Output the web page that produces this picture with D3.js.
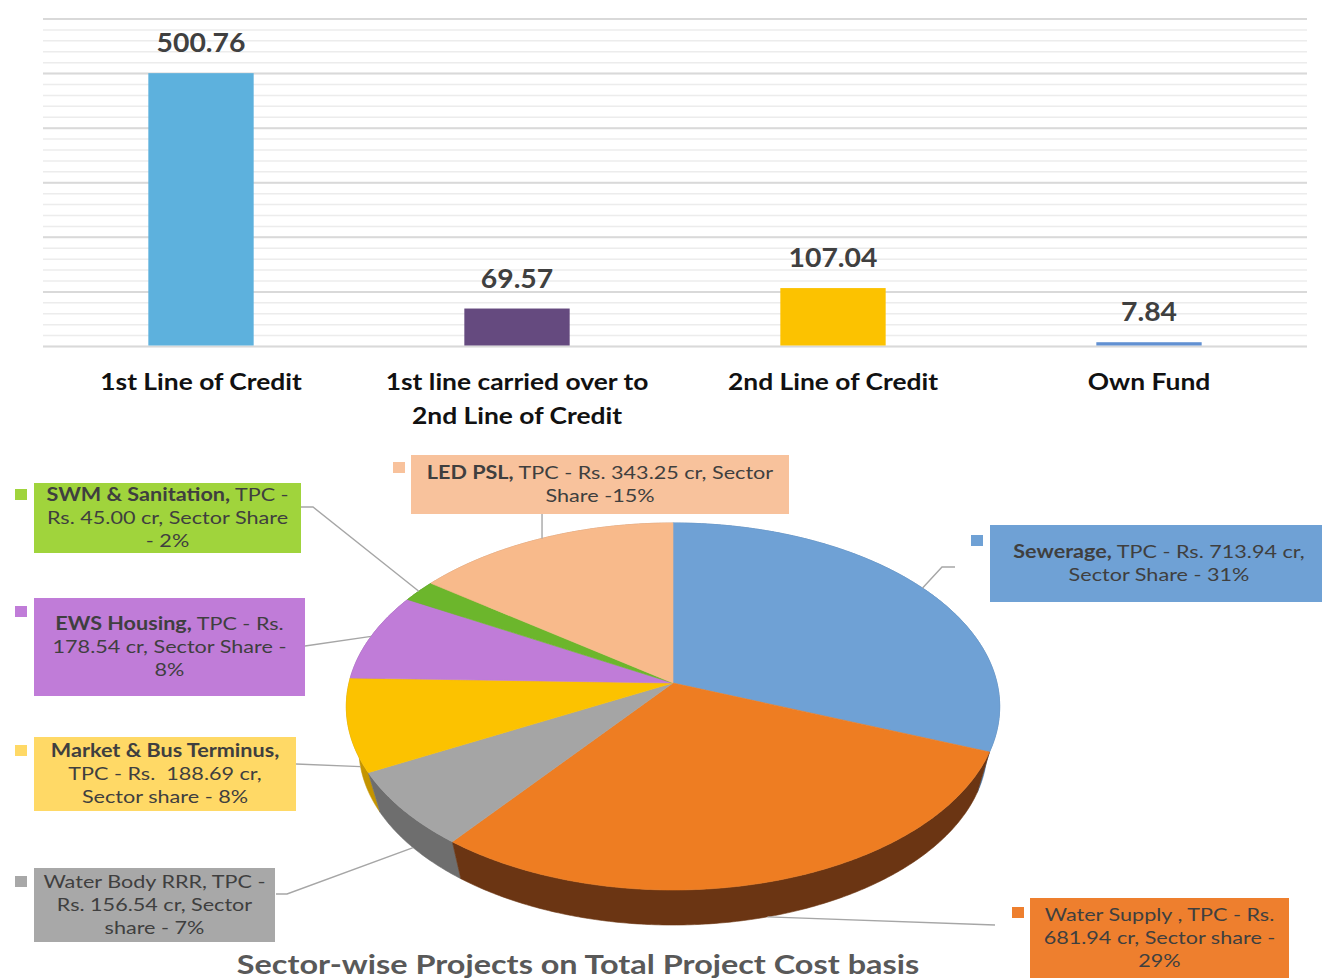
<!DOCTYPE html>
<html><head><meta charset="utf-8">
<script src="https://cdn.jsdelivr.net/npm/d3@7/dist/d3.min.js"></script>
<style>body{margin:0;background:#fff}svg{display:block}text{white-space:pre}</style>
</head><body>
<svg id="c" width="1322" height="978"></svg>
<script>
// ---------- DATA ----------
const barCategories = [["1st Line of Credit"], ["1st line carried over to", "2nd Line of Credit"], ["2nd Line of Credit"], ["Own Fund"]];
const barValues = [500.76, 69.57, 107.04, 7.84];
const barValueLabels = ["500.76", "69.57", "107.04", "7.84"];
const barColors = ["#5db1dd", "#654a7f", "#fcc200", "#6190d2"];
const yDomain = [0, 600];

const sectorNames = ["Sewerage", "Water Supply", "Water Body RRR", "Market & Bus Terminus", "EWS Housing", "SWM & Sanitation", "LED PSL"];
const sectorTPC = [713.94, 681.94, 156.54, 188.69, 178.54, 45.00, 343.25];
const sectorColors = ["#6fa1d5", "#ee7d22", "#a5a5a5", "#fcc200", "#c07cd8", "#6cb62c", "#f8ba8b"];
const sectorSideColors = ["#4a76a4", "#6b3513", "#6e6e6e", "#c49400", "#8c5aa0", "#4a8a1e", "#c08a66"];
const sectorBoxColors = ["#6fa1d5", "#ee7f2e", "#a8a8a8", "#ffd966", "#c07cd8", "#a0d43c", "#f8c29c"];
const sectorLabelLines = [
  [[["Sewerage,", 1], [" TPC - Rs. 713.94 cr,", 0]], [["Sector Share - 31%", 0]]],
  [[["Water Supply , TPC - Rs.", 0]], [["681.94 cr, Sector share -", 0]], [["29%", 0]]],
  [[["Water Body RRR, TPC -", 0]], [["Rs. 156.54 cr, Sector", 0]], [["share - 7%", 0]]],
  [[["Market & Bus Terminus,", 1]], [["TPC - Rs.  188.69 cr,", 0]], [["Sector share - 8%", 0]]],
  [[["EWS Housing,", 1], [" TPC - Rs.", 0]], [["178.54 cr, Sector Share -", 0]], [["8%", 0]]],
  [[["SWM & Sanitation,", 1], [" TPC -", 0]], [["Rs. 45.00 cr, Sector Share", 0]], [["- 2%", 0]]],
  [[["LED PSL,", 1], [" TPC - Rs. 343.25 cr, Sector", 0]], [["Share -15%", 0]]]
];
const pieTitle = "Sector-wise Projects on Total Project Cost basis";

// ---------- LAYOUT ----------
const svg = d3.select("#c");
const FONT = "Lato, 'Open Sans', sans-serif";
// text placed at (tx,ty) and stretched horizontally by sx about its anchor
function place(sel, tx, ty, sx) {
  return sel.attr("x", 0).attr("y", 0).attr("transform", `translate(${tx},${ty}) scale(${sx},1)`);
}

// Bar chart
const x = d3.scaleBand().domain(d3.range(barValues.length)).range([43, 1307]).paddingInner(2 / 3).paddingOuter(1 / 3);
const y = d3.scaleLinear().domain(yDomain).range([346.5, 19]);

const grid = svg.append("g");
grid.selectAll("line.minor").data(y.ticks(30)).join("line")
  .attr("x1", 43).attr("x2", 1307).attr("y1", d => y(d)).attr("y2", d => y(d))
  .attr("stroke", "#ececec").attr("stroke-width", 1.5);
grid.selectAll("line.major").data(y.ticks(6)).join("line")
  .attr("x1", 43).attr("x2", 1307).attr("y1", d => y(d)).attr("y2", d => y(d))
  .attr("stroke", "#d9d9d9").attr("stroke-width", 2);

svg.append("g").selectAll("rect").data(barValues).join("rect")
  .attr("x", (d, i) => x(i)).attr("width", x.bandwidth())
  .attr("y", d => y(d)).attr("height", d => y(0) - y(d) - 1)
  .attr("fill", (d, i) => barColors[i]);

const valG = svg.append("g");
barValues.forEach((v, i) => {
  place(valG.append("text"), x(i) + x.bandwidth() / 2, y(v) - 21, 1.09)
    .attr("text-anchor", "middle").attr("font-family", FONT).attr("font-weight", 700)
    .attr("font-size", 26).attr("fill", "#404040").text(barValueLabels[i]);
});

const catG = svg.append("g");
barCategories.forEach((lines, i) => {
  lines.forEach((ln, j) => {
    place(catG.append("text"), x(i) + x.bandwidth() / 2, 390 + j * 34, 1.2)
      .attr("text-anchor", "middle").attr("font-family", FONT).attr("font-weight", 700)
      .attr("font-size", 22).attr("fill", "#111").text(ln);
  });
});

// Pie chart (3D perspective)
const P = { cx: 673, cy: 683, A: 324, B: 180.5, c: 0.128 };
const VP = [673, 1800], T = 0.0385;
function proj(th) {
  const u = Math.sin(th), v = Math.cos(th), d = 1 + P.c * v;
  return [P.cx + P.A * u / d, P.cy - P.B * v / d];
}
function projB(th) {
  const [px, py] = proj(th);
  return [px + (VP[0] - px) * T, py + (VP[1] - py) * T];
}
function samples(a0, a1, f) {
  const n = Math.max(2, Math.ceil((a1 - a0) / 0.01));
  return d3.range(n + 1).map(i => f(a0 + (a1 - a0) * i / n));
}
const pie = d3.pie().sort(null).startAngle(0).endAngle(2 * Math.PI);
const arcs = pie(sectorTPC);
const line = d3.line();

const sideG = svg.append("g");
arcs.slice().sort((a, b) => Math.cos((b.startAngle + b.endAngle) / 2) - Math.cos((a.startAngle + a.endAngle) / 2))
  .forEach(a => {
    const top = samples(a.startAngle, a.endAngle, proj);
    const bot = samples(a.startAngle, a.endAngle, projB).reverse();
    sideG.append("path").attr("d", line(top.concat(bot)) + "Z")
      .attr("fill", sectorSideColors[a.index]).attr("stroke", sectorSideColors[a.index]).attr("stroke-width", 0.6);
  });

const topG = svg.append("g");
arcs.forEach(a => {
  const pts = [[P.cx, P.cy]].concat(samples(a.startAngle, a.endAngle, proj));
  topG.append("path").attr("d", line(pts) + "Z")
    .attr("fill", sectorColors[a.index]).attr("stroke", sectorColors[a.index]).attr("stroke-width", 0.6);
});

// Label boxes
const boxLayout = [
  { x: 990, y: 525, w: 340, h: 77, sq: [971, 535], lead: [[955, 567], [942, 567]] },
  { x: 1030, y: 898, w: 259, h: 80, sq: [1012, 907], lead: [[995, 925]] },
  { x: 34, y: 868, w: 241, h: 74, sq: [15, 876], lead: [[276, 894], [287, 894]] },
  { x: 34, y: 737, w: 262, h: 74, sq: [15, 745], lead: [[296, 764]] },
  { x: 34, y: 598, w: 271, h: 98, sq: [15, 606], lead: [[305, 646]] },
  { x: 34, y: 483, w: 267, h: 70, sq: [15, 489], lead: [[301, 507], [313, 507]] },
  { x: 411, y: 455, w: 378, h: 59, sq: [393, 462], lead: "v" }
];

const leadG = svg.append("g");
arcs.forEach(a => {
  const mid = (a.startAngle + a.endAngle) / 2;
  const end = Math.cos(mid) < 0 ? projB(mid) : proj(mid);
  const L = boxLayout[a.index];
  let pts;
  if (L.lead === "v") pts = [[end[0], L.y + L.h], end];
  else pts = L.lead.concat([end]);
  leadG.append("path").attr("d", line(pts)).attr("fill", "none")
    .attr("stroke", "#a6a6a6").attr("stroke-width", 1.4);
});

const boxG = svg.append("g");
sectorLabelLines.forEach((lines, i) => {
  const L = boxLayout[i];
  boxG.append("rect").attr("x", L.x).attr("y", L.y).attr("width", L.w).attr("height", L.h)
    .attr("fill", sectorBoxColors[i]);
  boxG.append("rect").attr("x", L.sq[0]).attr("y", L.sq[1]).attr("width", 12).attr("height", 11)
    .attr("fill", sectorBoxColors[i]);
  const fs = 18, lh = 23;
  const cxm = L.x + Math.min(L.w, 1322 - L.x) / 2 + (i === 0 ? 3 : 0);
  const cym = L.y + L.h / 2;
  lines.forEach((segs, j) => {
    const t = place(boxG.append("text"), cxm, cym + (j - (lines.length - 1) / 2) * lh + fs * 0.35, 1.2)
      .attr("text-anchor", "middle").attr("font-family", FONT).attr("font-size", fs).attr("fill", "#3f3f3f");
    segs.forEach(s => t.append("tspan").attr("font-weight", s[1] ? 700 : 400).text(s[0]));
  });
});

place(svg.append("text"), 578, 974, 1.2).attr("text-anchor", "middle")
  .attr("font-family", FONT).attr("font-weight", 700).attr("font-size", 27).attr("fill", "#595959")
  .text(pieTitle);
</script>
</body></html>
